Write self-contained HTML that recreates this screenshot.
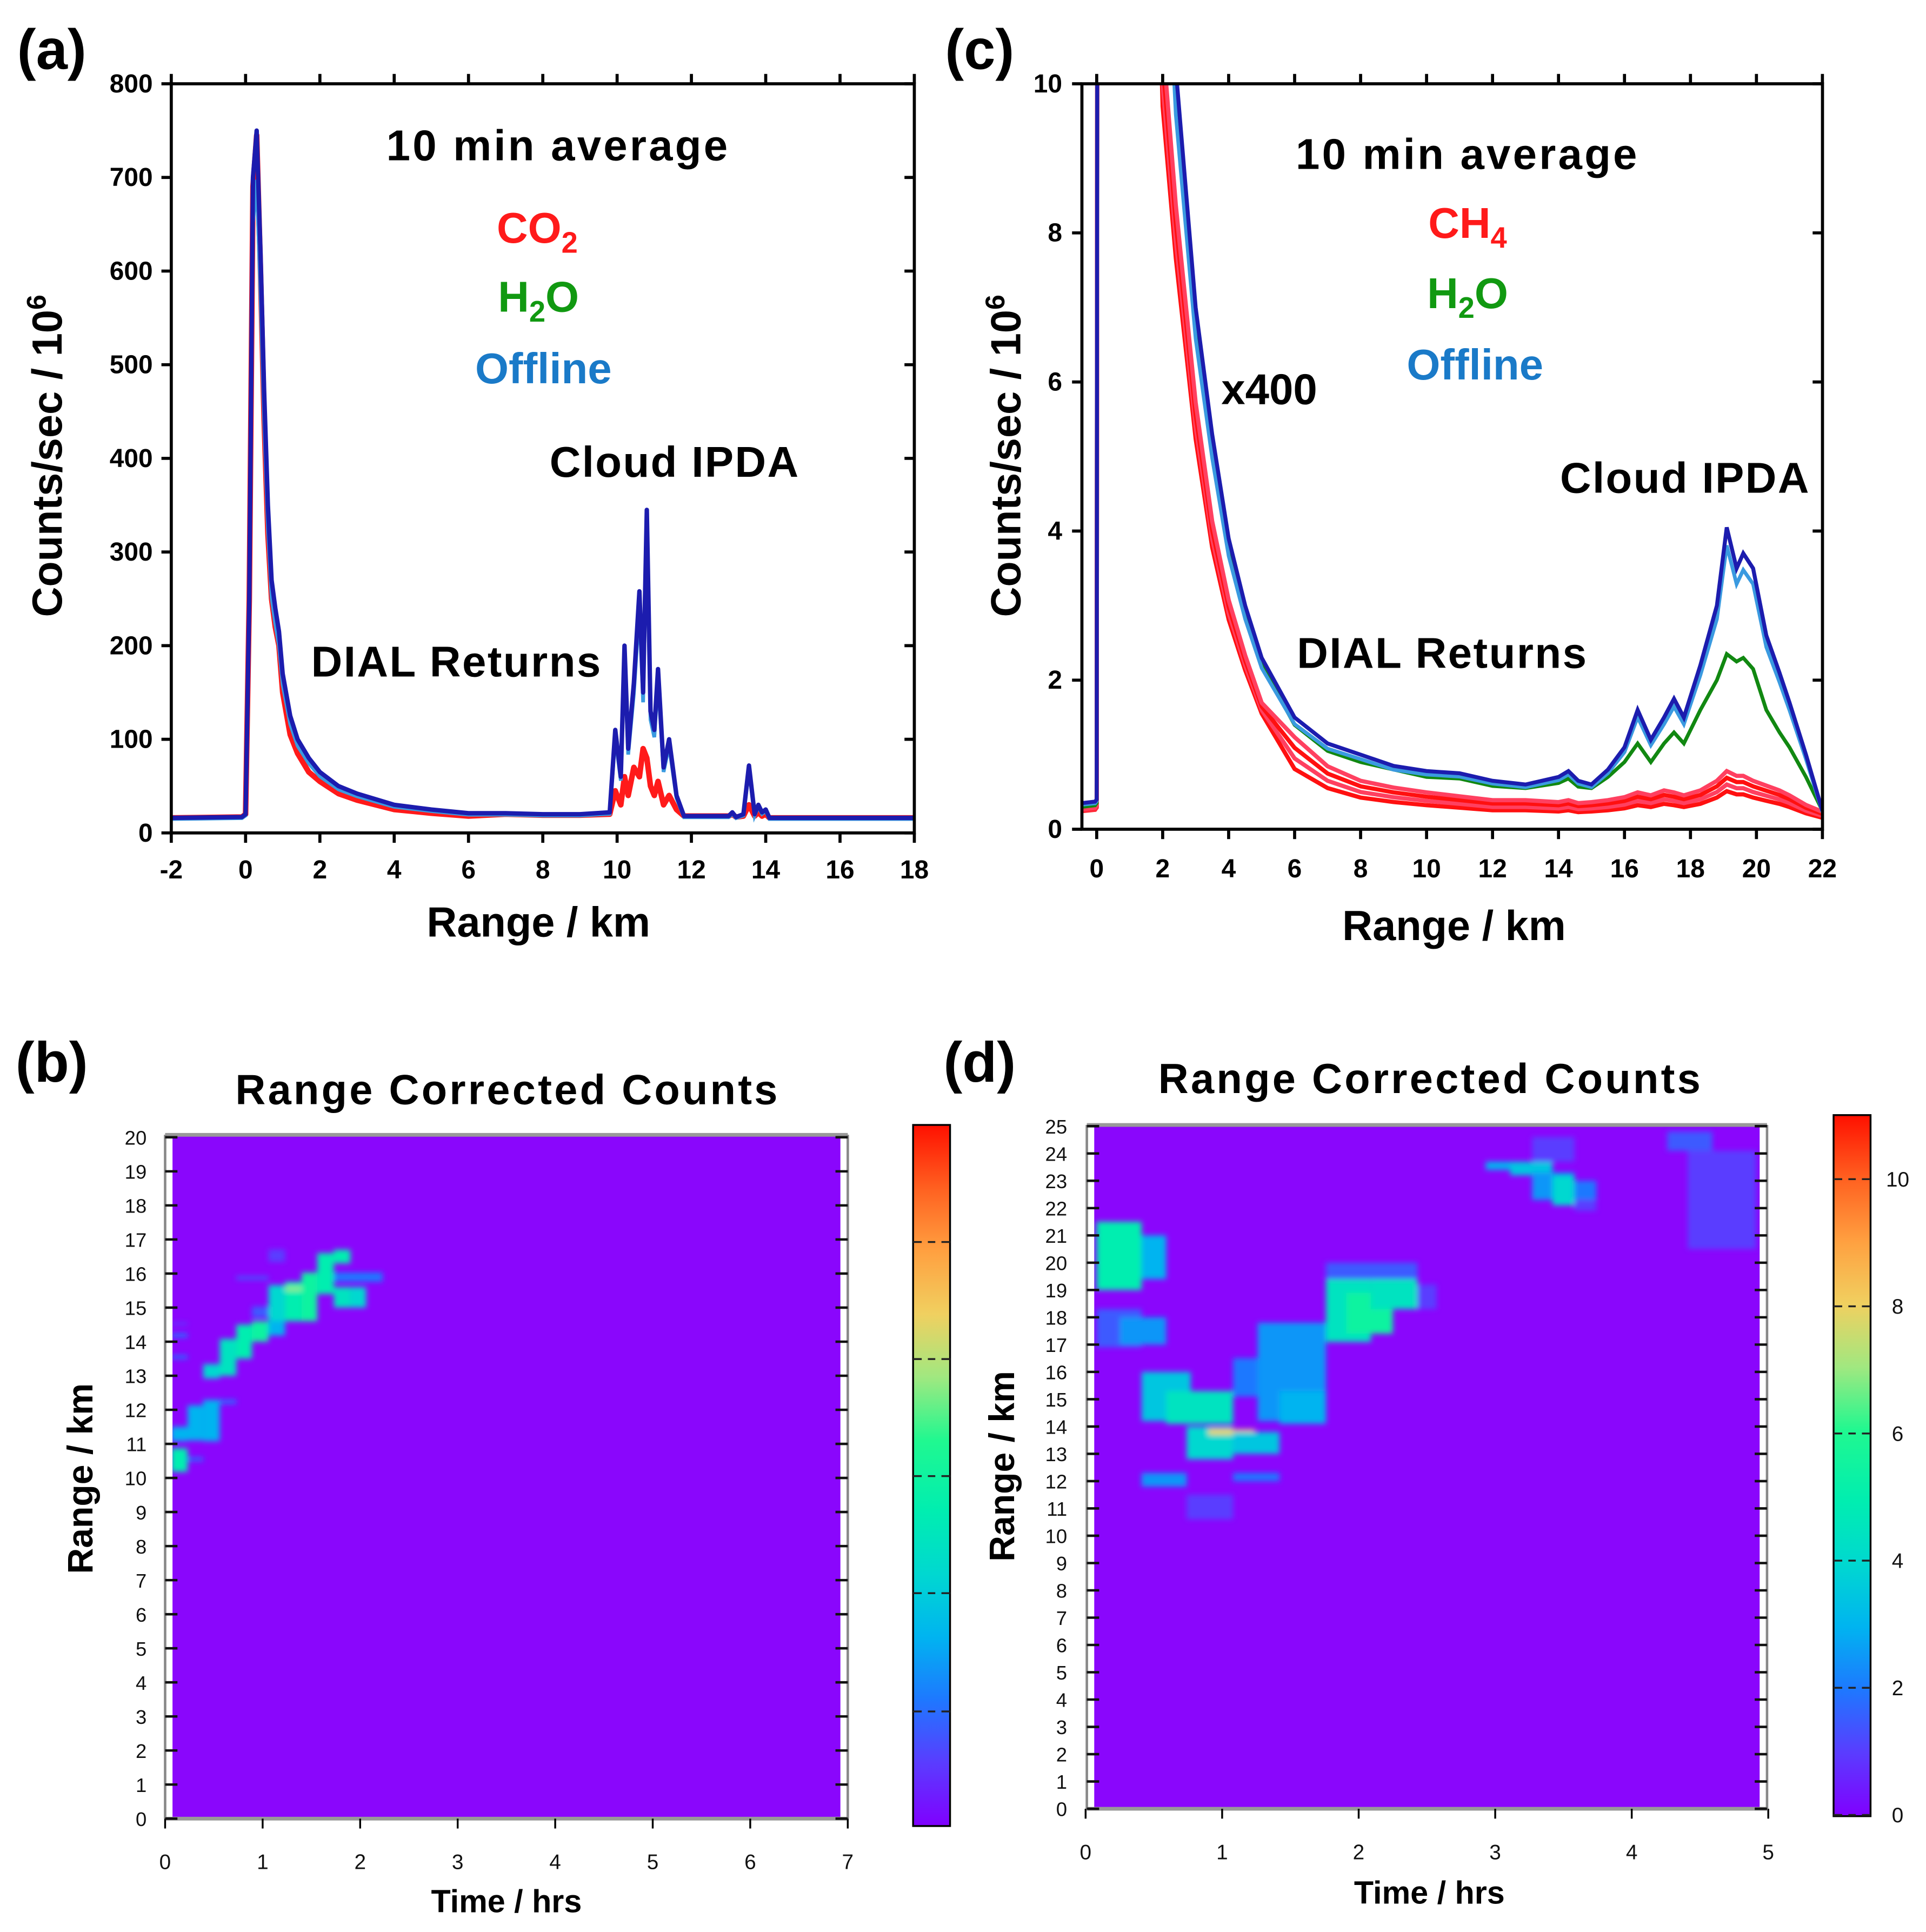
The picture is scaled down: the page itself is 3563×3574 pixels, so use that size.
<!DOCTYPE html>
<html><head><meta charset="utf-8"><style>
html,body{margin:0;padding:0;background:#fff;}
svg{display:block;}
</style></head><body>
<svg id="fig" xmlns="http://www.w3.org/2000/svg" width="3563" height="3574" viewBox="0 0 1563 1568" preserveAspectRatio="none" font-family="'Liberation Sans', sans-serif">
<defs>
<clipPath id="clipA"><rect x="139" y="68" width="603" height="608"/></clipPath>
<clipPath id="clipC"><rect x="878" y="68" width="601" height="605"/></clipPath>
<clipPath id="clipB"><rect x="140" y="923" width="542" height="553"/></clipPath>
<clipPath id="clipD"><rect x="888" y="914" width="540" height="554"/></clipPath>
<filter id="soft" x="-5%" y="-5%" width="110%" height="110%"><feGaussianBlur stdDeviation="2.2"/></filter>
<linearGradient id="cmap" x1="0" y1="1" x2="0" y2="0">
<stop offset="0" stop-color="#8000ff"/><stop offset="0.09" stop-color="#5a3cff"/>
<stop offset="0.18" stop-color="#1e78ff"/><stop offset="0.27" stop-color="#00b4f0"/>
<stop offset="0.36" stop-color="#00d8d0"/><stop offset="0.45" stop-color="#00eeb0"/>
<stop offset="0.55" stop-color="#20f890"/><stop offset="0.64" stop-color="#a0e880"/>
<stop offset="0.73" stop-color="#f0d060"/><stop offset="0.82" stop-color="#ffa040"/>
<stop offset="0.91" stop-color="#ff6020"/><stop offset="1" stop-color="#ff1000"/>
</linearGradient>
</defs>
</svg>
<script>
// ---------- Panel (a) data ----------
const aRange = [-2,-0.1,0,0.1,0.2,0.3,0.4,0.5,0.6,0.7,0.8,0.9,1.0,1.2,1.4,1.7,2.0,2.5,3.0,4.0,5,6,7,8,9,9.8,9.95,10.1,10.2,10.3,10.45,10.6,10.7,10.8,10.9,11.0,11.1,11.25,11.4,11.6,11.8,13.0,13.1,13.2,13.4,13.55,13.7,13.8,13.9,14.0,14.1,18];
const aOffline = [16,17,20,250,700,750,620,470,350,270,240,215,170,125,100,80,65,50,42,30,25,21,21,20,20,22,110,60,200,90,160,258,150,345,130,110,175,70,100,40,18,18,22,17,20,72,20,30,22,25,16,16];
const aCO2 = [16,17,20,250,690,745,600,440,320,250,220,200,150,105,85,65,55,42,35,25,21,18,20,19,19,20,45,30,60,40,70,60,90,80,50,40,55,30,40,25,18,18,20,17,18,30,18,22,18,20,16,16];
const aXTicks = [-2,0,2,4,6,8,10,12,14,16,18];
const aYTicks = [0,100,200,300,400,500,600,700,800];
// ---------- Panel (c) data ----------
const cRange = [-0.45,-0.05,0,0.05,0.5,1.5,2.0,2.4,3,3.5,4,4.5,5,6,7,8,9,10,11,12,13,14,14.3,14.6,15,15.5,16,16.4,16.8,17.2,17.5,17.8,18.3,18.8,19.1,19.4,19.6,19.9,20.3,20.7,21,21.5,22];
const cOffline = [0.35,0.37,0.4,30,40,25,14,10.2,7,5.3,3.9,3.0,2.3,1.5,1.15,1.0,0.85,0.78,0.75,0.65,0.6,0.7,0.78,0.65,0.6,0.8,1.1,1.6,1.2,1.5,1.75,1.5,2.2,3.0,4.05,3.5,3.7,3.5,2.6,2.1,1.7,1.0,0.25];
const cH2O = [0.3,0.32,0.35,30,40,25,14,10,6.8,5.1,3.7,2.85,2.2,1.4,1.05,0.9,0.8,0.7,0.68,0.58,0.55,0.62,0.68,0.57,0.55,0.7,0.9,1.15,0.9,1.15,1.3,1.15,1.6,2.0,2.35,2.25,2.3,2.15,1.6,1.3,1.1,0.7,0.25];
const cCH4 = [0.25,0.27,0.3,30,35,18,10,7.9,5.4,3.9,2.9,2.2,1.6,0.95,0.65,0.5,0.43,0.38,0.34,0.3,0.3,0.28,0.3,0.27,0.28,0.3,0.33,0.38,0.35,0.4,0.38,0.35,0.4,0.5,0.6,0.55,0.55,0.5,0.45,0.4,0.35,0.25,0.18];
const cXTicks = [0,2,4,6,8,10,12,14,16,18,20,22];
const cYTicks = [0,2,4,6,8,10];
// ---------- Panel (b) heatmap cells ----------
const bT0 = [0.06,0.06,0.06,0.06,0.06,0.23,0.23,0.39,0.39,0.56,0.56,0.73,0.73,0.89,0.89,0.89,1.06,1.06,1.06,1.23,1.23,1.40,1.56,1.73,1.73,1.73,1.90,1.90,2.06];
const bT1 = [0.23,0.23,0.23,0.23,0.23,0.39,0.39,0.56,0.56,0.73,0.73,0.89,0.89,1.06,1.06,1.06,1.23,1.23,1.23,1.40,1.40,1.56,1.73,1.90,1.90,1.90,2.06,2.06,2.23];
const bR0 = [10.18,11.08,13.5,14.13,14.5,11.1,10.5,11.08,12.92,13.0,12.18,13.5,15.82,14.0,14.71,15.82,14.6,14.18,16.34,14.6,15.5,14.6,15.4,16.3,15.0,15.76,15.0,15.76,15.76];
const bR1 = [10.87,11.5,13.6,14.24,14.55,12.13,10.6,12.29,13.34,14.08,12.29,14.5,15.92,14.6,15.03,15.92,15.66,14.6,16.71,15.76,15.6,16.03,16.6,16.7,15.6,16.03,15.6,16.03,16.03];
const bV = [5,3,2,2,1.5,3,2,3,4,4.5,2,5,1.5,5.5,1.5,1.5,4,3,1,5,7,5.5,5,5,4.5,2,4,2,2];
const bXTicks = [0,1,2,3,4,5,6,7];
const bYTicks = [0,1,2,3,4,5,6,7,8,9,10,11,12,13,14,15,16,17,18,19,20];
// ---------- Panel (d) heatmap cells ----------
const dT0 = [2.93,3.11,3.27,3.42,3.58,3.27,4.26,4.41,3.58,0.08,0.41,0.08,0.25,0.41,0.59,0.74,0.90,1.08,0.41,1.08,0.74,1.08,1.26,1.42,1.76,1.91,2.09,1.76,2.43];
const dT1 = [3.24,3.42,3.58,3.58,3.74,3.58,4.59,4.91,3.74,0.41,0.59,0.41,0.59,0.77,1.08,1.08,1.24,1.42,0.74,1.42,1.08,1.42,1.76,1.76,2.09,2.25,2.43,2.43,2.57];
const dR0 = [23.4,23.2,22.3,22.1,22.3,23.7,24.1,20.5,21.9,19.0,19.4,16.9,17.0,14.2,14.1,12.8,13.7,13.0,11.8,12.0,10.6,15.1,14.2,14.1,17.1,17.4,18.3,19.4,18.3];
const dR1 = [23.7,23.7,23.3,23.2,23.0,24.6,24.8,24.1,22.3,21.5,21.0,18.3,18.0,16.0,15.3,14.0,13.9,13.8,12.3,12.3,11.5,16.5,17.8,15.3,19.4,18.9,19.6,20.0,19.2];
const dV = [3,3.5,2.5,4,2,1,1.5,1,1,5,3,1.5,2.5,3.5,4.5,4,8,3.5,2.5,2,1,2,2.5,3,4.5,5.5,4.5,1.5,1];
const dXTicks = [0,1,2,3,4,5];
const dYTicks = [0,1,2,3,4,5,6,7,8,9,10,11,12,13,14,15,16,17,18,19,20,21,22,23,24,25];
const dCbTicks = [0,2,4,6,8,10];

const NS = 'http://www.w3.org/2000/svg';
const svg = document.getElementById('fig');
function mk(tag, attrs, parent) {
  const e = document.createElementNS(NS, tag);
  for (const k in attrs) e.setAttribute(k, attrs[k]);
  (parent || svg).appendChild(e);
  return e;
}
function txt(s, x, y, size, opts, parent) {
  const a = Object.assign({x:x, y:y, 'font-size':size, 'text-anchor':'middle', fill:'#000'}, opts || {});
  const t = mk('text', a, parent);
  t.textContent = s;
  return t;
}
const stops = [[0,[128,0,255]],[1,[90,60,255]],[2,[30,120,255]],[3,[0,180,240]],[4,[0,216,208]],[5,[0,238,176]],[6,[32,248,144]],[7,[160,232,128]],[8,[240,208,96]],[9,[255,160,64]],[10,[255,96,32]],[11,[255,16,0]]];
function cmap(v) {
  v = Math.max(0, Math.min(11, v));
  const i = Math.min(10, Math.floor(v)); const f = v - i;
  const a = stops[i][1], b = stops[i+1][1];
  return 'rgb(' + a.map((c,k)=>Math.round(c+(b[k]-c)*f)).join(',') + ')';
}
function pathD(xs, ys, fx, fy) { return xs.map((v,i)=>(i?'L':'M')+fx(v).toFixed(1)+','+fy(ys[i]).toFixed(1)).join(''); }

// ================= Panel (a) =================
const xa = v => 139 + (v + 2) * 603 / 20;
const ya = v => 676 - v * 608 / 800;
const gA = mk('g', {});


const gAc = mk('g', {'clip-path':'url(#clipA)'}, gA);
let p = mk('path', {d:pathD(aRange, aCO2, xa, ya), fill:'none', stroke:'#ff1a1a', 'stroke-width':4.5, 'stroke-linejoin':'round'}, gAc);
 
p = mk('path', {d:pathD(aRange, aOffline.map(v=>v*0.93), xa, ya), fill:'none', stroke:'#3a9ae0', 'stroke-width':3}, gAc);
 
p = mk('path', {d:pathD(aRange, aOffline, xa, ya), fill:'none', stroke:'#1c1cae', 'stroke-width':3.6, 'stroke-linejoin':'round'}, gAc);
 
let fr = mk('rect', {x:139, y:68, width:603, height:608, fill:'none', stroke:'#000', 'stroke-width':2.5}, gA);
 
aXTicks.forEach(v => {
  mk('line', {x1:xa(v), x2:xa(v), y1:676, y2:684, stroke:'#000','stroke-width':2.5}, gA);
  mk('line', {x1:xa(v), x2:xa(v), y1:68, y2:60, stroke:'#000','stroke-width':2.5}, gA);
  const t = txt(String(v), xa(v), 713, 21, {'font-weight':'bold'}, gA);
   
});
aYTicks.forEach(v => {
  mk('line', {x1:131, x2:139, y1:ya(v), y2:ya(v), stroke:'#000','stroke-width':2.5}, gA);
  mk('line', {x1:742, x2:734, y1:ya(v), y2:ya(v), stroke:'#000','stroke-width':2.5}, gA);
  const t = txt(String(v), 124, ya(v)+7, 21, {'font-weight':'bold','text-anchor':'end'}, gA);
   
});

// ================= Panel (c) =================
const xc = v => 890 + v * 26.77;
const yc = v => 673 - v * 60.5;
const gC = mk('g', {});


const gCc = mk('g', {'clip-path':'url(#clipC)'}, gC);
[0.85, 1.0, 1.15, 1.3].forEach((s, i) => {
  const l = mk('path', {d:pathD(cRange, cCH4.map((v,k)=>k>12? v*s : v*(0.97+0.03*i)), xc, yc), fill:'none', stroke: i%2? '#ff4060':'#ff1010', 'stroke-width':3.4}, gCc);
  
  
});
p = mk('path', {d:pathD(cRange, cH2O, xc, yc), fill:'none', stroke:'#118811', 'stroke-width':3}, gCc);
 
p = mk('path', {d:pathD(cRange, cOffline.map(v=>v*0.94), xc, yc), fill:'none', stroke:'#3a9ae0', 'stroke-width':3}, gCc);
 
p = mk('path', {d:pathD(cRange, cOffline, xc, yc), fill:'none', stroke:'#1c1cae', 'stroke-width':3.2}, gCc);
 
fr = mk('rect', {x:878, y:68, width:601, height:605, fill:'none', stroke:'#000', 'stroke-width':2.5}, gC);
 
cXTicks.forEach(v => {
  mk('line', {x1:xc(v), x2:xc(v), y1:673, y2:681, stroke:'#000','stroke-width':2.5}, gC);
  mk('line', {x1:xc(v), x2:xc(v), y1:68, y2:60, stroke:'#000','stroke-width':2.5}, gC);
  const t = txt(String(v), xc(v), 712, 21, {'font-weight':'bold'}, gC);
   
});
cYTicks.forEach(v => {
  mk('line', {x1:870, x2:878, y1:yc(v), y2:yc(v), stroke:'#000','stroke-width':2.5}, gC);
  mk('line', {x1:1479, x2:1471, y1:yc(v), y2:yc(v), stroke:'#000','stroke-width':2.5}, gC);
  const t = txt(String(v), 862, yc(v)+7, 21, {'font-weight':'bold','text-anchor':'end'}, gC);
   
});

// ================= Heatmaps =================
function heatmap(name, fx, fy, x0, x1, yTop, yBot, T0, T1, R0, R1, V, clip, xt, yt, lblX) {
  const g = mk('g', {});
  
  
  mk('rect', {x:x0-6, y:yTop, width:(x1-x0)+12, height:yBot-yTop, fill:'#fff'}, g);
  const bg = mk('rect', {x:x0, y:yTop, width:x1-x0, height:yBot-yTop, fill:'#8a06fc'}, g);
   
  const cg = mk('g', {'clip-path':clip}, g);
  const cgf = mk('g', {filter:'url(#soft)'}, cg);
  V.forEach((v, i) => {
    const r = mk('rect', {x:fx(T0[i]), y:fy(R1[i]), width:fx(T1[i])-fx(T0[i]), height:fy(R0[i])-fy(R1[i]), fill:cmap(v)}, cgf);
    
    
  });
  mk('line', {x1:x0-6, x2:x1+6, y1:yTop, y2:yTop, stroke:'#999','stroke-width':3}, g);
  mk('line', {x1:x0-6, x2:x1+6, y1:yBot, y2:yBot, stroke:'#999','stroke-width':3}, g);
  mk('line', {x1:x0-6, x2:x0-6, y1:yTop, y2:yBot, stroke:'#888','stroke-width':2}, g);
  mk('line', {x1:x1+6, x2:x1+6, y1:yTop, y2:yBot, stroke:'#888','stroke-width':2}, g);
  xt.forEach(v => {
    mk('line', {x1:fx(v), x2:fx(v), y1:yBot, y2:yBot+8, stroke:'#000','stroke-width':1.5}, g);
    const t = txt(String(v), fx(v), yBot+41, 17, {fill:'#111'}, g);
     
  });
  yt.forEach(v => {
    mk('line', {x1:x0-6, x2:x0+4, y1:fy(v), y2:fy(v), stroke:'#111','stroke-width':2}, g);
    mk('line', {x1:x1-4, x2:x1+6, y1:fy(v), y2:fy(v), stroke:'#111','stroke-width':2}, g);
    const t = txt(String(v), lblX, fy(v)+6, 16, {fill:'#111','text-anchor':'end'}, g);
     
  });
  return g;
}
const xb = t => 134 + t * 79.14;
const yb = r => 1476 - r * 27.65;
heatmap('panel-b-heatmap', xb, yb, 140, 682, 921, 1476, bT0, bT1, bR0, bR1, bV, 'url(#clipB)', bXTicks, bYTicks, 119);
const xd = t => 881 + t * 110.8;
const yd = r => 1468 - r * 22.16;
heatmap('panel-d-heatmap', xd, yd, 888, 1428, 913, 1468, dT0, dT1, dR0, dR1, dV, 'url(#clipD)', dXTicks, dYTicks, 866);

function colorbar(name, x, y0, y1, dashYs) {
  const g = mk('g', {});
  
  
  mk('rect', {x:x, y:y0, width:30, height:y1-y0, fill:'url(#cmap)', stroke:'#000','stroke-width':1.5}, g);
  dashYs.forEach(y => {
    mk('line', {x1:x, x2:x+7, y1:y, y2:y, stroke:'#222','stroke-width':1.5}, g);
    mk('line', {x1:x+12, x2:x+18, y1:y, y2:y, stroke:'#222','stroke-width':1.5}, g);
    mk('line', {x1:x+23, x2:x+30, y1:y, y2:y, stroke:'#222','stroke-width':1.5}, g);
  });
  return g;
}
colorbar('panel-b-colorbar', 741, 913, 1482, [1389,1293,1198,1103,1008]);
const cbY = v => 1473 - v * 51.6;
const cbD = colorbar('panel-d-colorbar', 1488, 905, 1474, dCbTicks.map(cbY));
dCbTicks.forEach(v => {
  const t = txt(String(v), 1540, cbY(v)+6, 17, {fill:'#111'}, cbD);
   
});

// ================= Text annotations =================
function label(s, x, y, size, name, opts) {
  const t = txt(s, x, y, size, Object.assign({'font-weight':'bold'}, opts || {}));
  
  
  return t;
}
function chem(base, sub, tail, x, y, size, color, name) {
  const t = mk('text', {x:x, y:y, 'font-size':size, 'font-weight':'bold', 'text-anchor':'middle', fill:color});
  
  
  const a = mk('tspan', {}, t); a.textContent = base;
  const b = mk('tspan', {dy:8, 'font-size':size*0.68}, t); b.textContent = sub;
  if (tail) { const c = mk('tspan', {dy:-8}, t); c.textContent = tail; }
  return t;
}
label('(a)', 42, 56, 46, 'panel-a-label');
label('(c)', 795, 56, 46, 'panel-c-label');
label('(b)', 42, 878, 46, 'panel-b-label');
label('(d)', 795, 878, 46, 'panel-d-label');

label('10 min average', 452, 130, 35, 'annotation-averaging', {textLength:277});
chem('CO', '2', '', 436, 197, 35, '#ff1a1a', 'legend-co2');
chem('H', '2', 'O', 437, 253, 35, '#119911', 'legend-h2o');
label('Offline', 441, 311, 35, 'legend-offline', {fill:'#1a7ac8'});
label('Cloud  IPDA', 547, 387, 35, 'annotation-cloud-ipda', {textLength:202});
label('DIAL Returns', 370, 549, 35, 'annotation-dial-returns', {textLength:235});
label('Range / km', 437, 760, 34, 'x-axis-title-a');
let yt = label('Counts/sec / 10', 0, 0, 34, 'y-axis-title-a', {transform:'translate(50,370) rotate(-90)'});
let sp = mk('tspan', {dy:-13, 'font-size':22}, yt); sp.textContent = '6';

label('10 min average', 1190, 137, 35, 'annotation-averaging-c', {textLength:277});
chem('CH', '4', '', 1191, 193, 35, '#ff1a1a', 'legend-ch4');
chem('H', '2', 'O', 1191, 250, 35, '#119911', 'legend-h2o-c');
label('Offline', 1197, 308, 35, 'legend-offline-c', {fill:'#1a7ac8'});
label('x400', 1030, 328, 35, 'annotation-x400');
label('Cloud  IPDA', 1367, 400, 35, 'annotation-cloud-ipda-c', {textLength:202});
label('DIAL Returns', 1170, 542, 35, 'annotation-dial-returns-c', {textLength:235});
label('Range / km', 1180, 763, 34, 'x-axis-title-c');
yt = label('Counts/sec / 10', 0, 0, 34, 'y-axis-title-c', {transform:'translate(828,370) rotate(-90)'});
sp = mk('tspan', {dy:-13, 'font-size':22}, yt); sp.textContent = '6';

label('Range Corrected Counts', 411, 896, 34, 'panel-b-title', {textLength:440});
label('Time / hrs', 411, 1552, 26, 'x-axis-title-b');
label('Range / km', 0, 0, 29, 'y-axis-title-b', {transform:'translate(75,1200) rotate(-90)'});
label('Range Corrected Counts', 1160, 887, 34, 'panel-d-title', {textLength:440});
label('Time / hrs', 1160, 1545, 26, 'x-axis-title-d');
label('Range / km', 0, 0, 29, 'y-axis-title-d', {transform:'translate(823,1190) rotate(-90)'});
</script>
</body></html>
